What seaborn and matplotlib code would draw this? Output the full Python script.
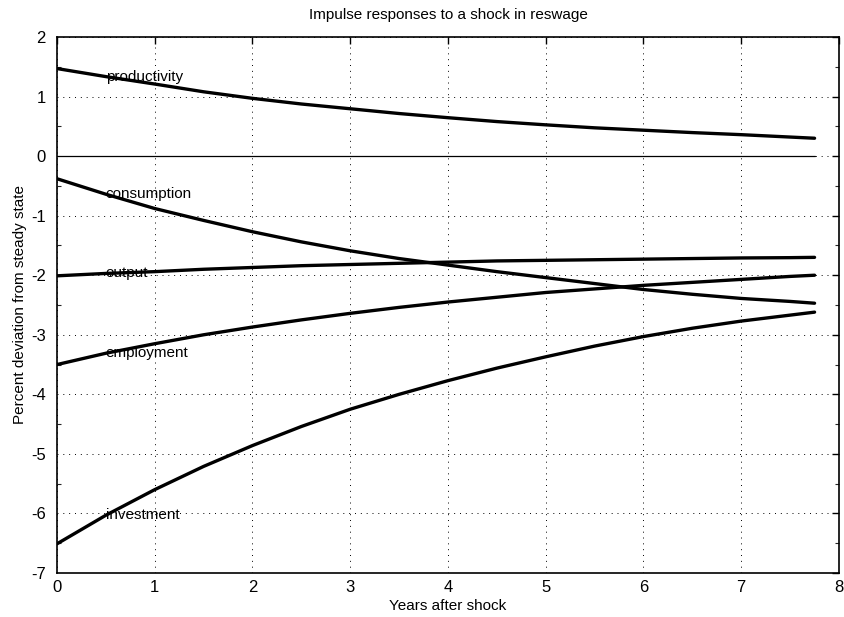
import matplotlib
matplotlib.use("Agg")
import matplotlib.pyplot as plt
from matplotlib import font_manager
from matplotlib.ticker import MultipleLocator
import seaborn as sns
import pandas as pd

years = [0, 0.5, 1, 1.5, 2, 2.5, 3, 3.5, 4, 4.5, 5, 5.5, 6, 6.5, 7, 7.5, 7.75]
productivity = [1.47, 1.335, 1.21, 1.08, 0.97, 0.875, 0.795, 0.715, 0.645, 0.58, 0.525, 0.475, 0.435, 0.395, 0.36, 0.32, 0.30]
consumption = [-0.38, -0.64, -0.88, -1.08, -1.27, -1.44, -1.59, -1.72, -1.83, -1.94, -2.04, -2.14, -2.24, -2.32, -2.39, -2.44, -2.47]
output = [-2.01, -1.97, -1.94, -1.90, -1.87, -1.84, -1.82, -1.80, -1.78, -1.76, -1.75, -1.74, -1.73, -1.72, -1.71, -1.705, -1.70]
employment = [-3.50, -3.31, -3.15, -3.00, -2.87, -2.75, -2.64, -2.54, -2.45, -2.37, -2.29, -2.23, -2.17, -2.12, -2.07, -2.02, -2.00]
investment = [-6.51, -6.03, -5.60, -5.21, -4.86, -4.54, -4.25, -4.00, -3.77, -3.56, -3.37, -3.19, -3.03, -2.89, -2.77, -2.67, -2.62]
baseline = [0.0] * len(years)

series_names = ["productivity", "consumption", "output", "employment", "investment"]
series_values = [productivity, consumption, output, employment, investment]

title = "Impulse responses to a shock in reswage"
xlabel = "Years after shock"
ylabel = "Percent deviation from steady state"
xticks = [0, 1, 2, 3, 4, 5, 6, 7, 8]
yticks = [2, 1, 0, -1, -2, -3, -4, -5, -6, -7]

sns.set_style("white")
names = {f.name for f in font_manager.fontManager.ttflist}
fam = "Liberation Sans Narrow" if "Liberation Sans Narrow" in names else "Liberation Sans"
plt.rcParams["font.family"] = [fam, "DejaVu Sans"]
plt.rcParams["axes.unicode_minus"] = False
fs = 11

rows = []
for name, vals in zip(series_names, series_values):
    for t, v in zip(years, vals):
        rows.append({"years": t, "value": v, "series": name})
df = pd.DataFrame(rows)
df0 = pd.DataFrame({"years": years, "value": baseline})

fig = plt.figure(figsize=(8.45, 6.17), dpi=100)
ax = fig.add_axes([57 / 845, 1 - 573 / 617, (839 - 57) / 845, (573 - 37) / 617])

sns.lineplot(data=df, x="years", y="value", hue="series",
             palette=["black"] * len(series_names), linewidth=2.4,
             legend=False, ax=ax, sort=False)
sns.lineplot(data=df0, x="years", y="value", color="black", linewidth=0.9, ax=ax)

for name, vals in zip(series_names, series_values):
    ax.text(years[1], vals[1], name, ha="left", va="center", fontsize=fs, color="black")

ax.set_xlim(0, 8)
ax.set_ylim(-7, 2)
ax.set_xticks(xticks)
ax.set_yticks(yticks)
ax.yaxis.set_minor_locator(MultipleLocator(0.5))
ax.grid(True, which="major", color="black", linestyle=(0, (1, 5)), linewidth=0.7)
ax.tick_params(which="major", direction="in", length=5, width=1, top=True, right=True,
               labelsize=12, colors="black")
ax.tick_params(axis="y", which="major", pad=8)
ax.tick_params(axis="x", which="major", pad=5)
ax.tick_params(which="minor", axis="y", direction="in", length=3, width=0.8, left=True, right=True)
for s in ax.spines.values():
    s.set_visible(True)
    s.set_color("black")
    s.set_linewidth(1.2)

ax.set_title(title, fontsize=fs, color="black", pad=13)
ax.set_xlabel(xlabel, fontsize=fs, color="black", labelpad=3)
ax.set_ylabel(ylabel, fontsize=fs, color="black", labelpad=3)

fig.savefig("out.png", dpi=100)
